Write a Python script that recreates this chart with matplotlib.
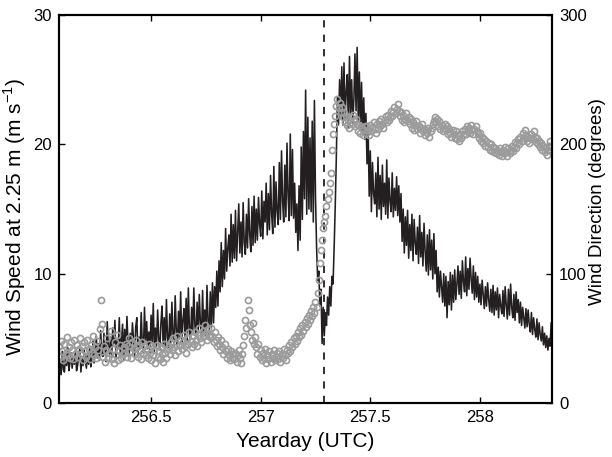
import numpy as np
import matplotlib.pyplot as plt

plt.rcParams['font.family'] = ['Liberation Sans', 'DejaVu Sans']

# wind speed at 2.25 m (m/s), one value every 0.005 day from yearday 256.08
speed_start = 256.08
speed_step = 0.005
wind_speed = [
    1.6, 3.2, 2.2, 4.0, 2.6, 2.4, 3.8, 2.9, 4.3, 2.5, 3.1, 3.9, 2.7, 3.5, 3.0, 4.1, 2.5, 2.9, 3.7, 4.2,
    2.4, 3.6, 2.9, 4.1, 3.3, 2.7, 3.9, 3.0, 4.4, 2.8, 3.5, 4.8, 3.1, 4.0, 5.2, 3.5, 4.6, 3.3, 5.6, 4.0,
    3.6, 5.4, 4.1, 3.2, 6.3, 4.4, 3.8, 5.1, 3.5, 5.8, 4.6, 6.4, 3.4, 5.0, 4.2, 6.6, 3.6, 4.8, 6.1, 3.3,
    5.7, 3.9, 6.7, 4.5, 3.6, 5.4, 4.1, 6.2, 4.9, 3.7, 5.9, 6.6, 3.8, 5.1, 4.2, 7.0, 4.6, 3.9, 7.4, 4.8,
    6.3, 4.2, 5.5, 3.9, 6.8, 4.7, 7.7, 4.0, 5.8, 4.4, 7.2, 5.0, 4.1, 6.2, 7.5, 4.5, 6.6, 4.2, 8.0, 5.1,
    4.3, 6.9, 4.7, 7.8, 5.3, 4.4, 8.3, 5.6, 4.5, 7.1, 5.0, 8.6, 4.6, 6.4, 7.3, 5.1, 8.1, 4.8, 8.9, 5.6,
    4.9, 7.4, 5.3, 8.9, 6.0, 5.0, 7.8, 5.4, 8.4, 6.2, 5.1, 8.7, 5.5, 7.2, 5.2, 9.1, 6.3, 5.3, 8.6, 5.8,
    9.3, 6.2, 9.0, 7.4, 10.2, 7.5, 11.0, 8.6, 12.4, 9.0, 11.8, 9.6, 13.5, 10.2, 12.0, 13.0, 10.6, 14.6, 10.9, 13.8,
    11.2, 14.9, 11.0, 13.1, 15.4, 11.6, 14.0, 11.3, 15.5, 12.4, 11.5, 14.6, 12.0, 15.8, 13.0, 11.7, 15.2, 12.2, 16.0, 12.4,
    15.0, 12.6, 15.9, 13.8, 12.9, 16.4, 12.7, 15.6, 14.0, 17.0, 13.0, 16.2, 13.4, 17.6, 14.6, 13.1, 18.3, 13.6, 17.1, 14.8,
    13.8, 18.6, 14.2, 19.5, 15.6, 14.0, 18.4, 14.4, 20.1, 16.0, 14.1, 20.8, 14.5, 19.6, 14.3, 17.0, 13.2, 15.4, 11.8, 16.8,
    12.6, 19.8, 14.2, 21.0, 15.8, 24.2, 14.6, 22.1, 15.0, 20.5, 14.8, 21.8, 14.0, 23.4, 16.0, 12.0, 9.5, 10.2, 7.5, 8.8,
    4.6, 7.4, 5.2, 7.0, 6.0, 8.2, 6.8, 9.0, 7.5, 9.8, 9.2, 12.0, 15.2, 19.0, 23.7, 21.5, 25.0, 22.0, 26.0, 21.5,
    26.3, 22.0, 24.1, 25.4, 21.3, 26.8, 22.4, 25.0, 21.6, 23.5, 27.0, 22.6, 27.5, 21.8, 25.6, 21.2, 24.8, 20.8, 23.6, 20.4,
    22.4, 18.5, 21.2, 16.0, 19.5, 14.8, 18.6, 16.2, 15.4, 17.8, 14.4, 19.0, 15.0, 17.6, 14.2, 18.4, 15.2, 17.0, 14.6, 18.8,
    14.3, 17.4, 15.6, 14.8, 17.8, 14.4, 16.6, 14.9, 17.5, 14.5, 16.8, 14.0, 16.2, 12.5, 15.0, 11.6, 14.4, 12.2, 14.9, 11.2,
    13.8, 11.8, 14.6, 11.0, 14.2, 12.4, 11.5, 13.6, 10.8, 14.5, 11.3, 13.2, 10.6, 13.9, 11.8, 10.2, 13.0, 9.9, 13.4, 10.3,
    12.6, 9.6, 13.1, 10.0, 11.8, 8.6, 10.5, 8.2, 10.2, 9.0, 7.8, 10.0, 7.5, 9.8, 6.6, 9.4, 7.6, 10.1, 7.2, 9.9,
    7.8, 10.3, 8.0, 9.2, 10.6, 8.4, 10.2, 8.1, 11.0, 9.4, 8.6, 11.3, 8.3, 10.4, 8.8, 11.2, 9.6, 8.5, 10.6, 8.0,
    10.1, 8.2, 9.8, 7.8, 9.2, 7.6, 9.5, 8.4, 7.3, 9.0, 7.5, 9.3, 8.0, 7.1, 8.8, 7.0, 9.1, 6.8, 8.6, 7.2,
    8.9, 6.6, 8.4, 7.5, 6.9, 8.7, 6.7, 9.0, 7.6, 6.5, 8.8, 6.8, 9.2, 7.4, 6.6, 8.4, 6.4, 8.6, 7.0, 8.0,
    6.2, 7.8, 6.0, 7.4, 6.6, 5.8, 7.3, 5.9, 7.2, 6.1, 5.5, 7.0, 5.3, 6.6, 5.7, 5.1, 6.5, 4.9, 6.2, 5.3,
    4.8, 5.9, 4.5, 5.4, 4.3, 5.2, 4.1, 5.0, 4.4, 6.2,
]

# wind direction (degrees), one value every 0.005 day from yearday 256.08
dir_start = 256.08
dir_step = 0.005
wind_dir = [
    44, 36, 48, 40, 33, 46, 39, 51, 37, 43, 35, 47, 41, 34, 49, 38, 45, 36, 42, 50,
    38, 44, 33, 47, 40, 36, 49, 42, 34, 45, 39, 52, 37, 43, 35, 48, 41, 57, 80, 61,
    36, 44, 32, 41, 50, 35, 39, 56, 34, 42, 31, 47, 37, 53, 33, 40, 45, 35, 38, 43,
    39, 46, 36, 44, 50, 40, 35, 47, 42, 38, 49, 43, 36, 45, 41, 34, 47, 39, 44, 37,
    42, 35, 46, 39, 33, 44, 37, 41, 31, 45, 36, 40, 34, 43, 38, 32, 46, 39, 35, 42,
    44, 38, 47, 41, 50, 43, 37, 46, 52, 40, 45, 49, 42, 47, 53, 44, 39, 50, 46, 55,
    48, 43, 52, 46, 55, 49, 44, 53, 58, 50, 47, 56, 52, 60, 54, 49, 57, 53, 51, 58,
    52, 47, 55, 49, 44, 51, 46, 41, 49, 43, 38, 46, 40, 35, 42, 37, 33, 40, 35, 38,
    34, 39, 32, 37, 41, 35, 31, 38, 45, 52, 64, 58, 80, 72, 60, 55, 49, 62, 46, 51,
    43, 38, 46, 36, 41, 33, 39, 35, 42, 31, 37, 34, 40, 32, 38, 35, 41, 33, 36, 39,
    34, 40, 32, 38, 35, 42, 37, 33, 41, 39, 45, 40, 47, 43, 50, 46, 52, 48, 55, 51,
    58, 53, 60, 56, 63, 59, 66, 61, 68, 64, 71, 67, 74, 70, 78, 74, 85, 95, 108, 118,
    126, 135, 140, 145, 152, 158, 163, 170, 178, 196, 208, 216, 222, 230, 235, 228, 232, 225, 229, 221,
    224, 217, 222, 215, 219, 213, 221, 216, 223, 218, 214, 220, 216, 210, 215, 209, 213, 207, 211, 214,
    209, 214, 211, 207, 215, 210, 213, 217, 212, 209, 216, 212, 218, 214, 220, 216, 213, 219, 222, 217,
    223, 219, 221, 226, 222, 225, 229, 224, 227, 231, 226, 222, 225, 219, 223, 217, 220, 224, 218, 221,
    216, 220, 213, 217, 211, 215, 218, 212, 214, 209, 213, 216, 210, 212, 207, 211, 209, 213, 206, 210,
    213, 216, 218, 221, 217, 220, 214, 218, 212, 215, 210, 213, 216, 211, 214, 208, 212, 209, 206, 211,
    208, 205, 210, 204, 207, 203, 208, 205, 210, 207, 212, 208, 214, 210, 213, 209, 215, 211, 208, 212,
    214, 210, 208, 205, 209, 203, 206, 201, 204, 199, 203, 198, 201, 196, 200, 195, 198, 194, 197, 193,
    196, 192, 197, 194, 191, 196, 193, 198, 194, 191, 197, 193, 196, 199, 195, 198, 202, 197, 201, 204,
    200, 206, 203, 209, 205, 211, 207, 203, 206, 201, 205, 208, 204, 210, 206, 202, 205, 200, 203, 198,
    201, 196, 199, 194, 197, 192, 196, 199, 203, 198,
]

event_day = 257.29

t_speed = speed_start + speed_step * np.arange(len(wind_speed))
t_dir = dir_start + dir_step * np.arange(len(wind_dir))

fig = plt.figure(figsize=(6.12, 4.57), dpi=100)
ax = fig.add_axes([0.0964, 0.118, 0.806, 0.849])
ax2 = ax.twinx()

ax.plot(t_speed, wind_speed, color='#231f20', lw=1.15)
ax.axvline(event_day, color='#231f20', lw=1.3, ls=(0, (4, 4)))
ax2.plot(t_dir, wind_dir, 'o', ms=4.4, mfc='none', mec='#9b9b9b', mew=1.2)

ax.set_xlim(256.08, 258.33)
ax.set_ylim(0, 30)
ax2.set_ylim(0, 300)
ax.set_xticks([256.5, 257, 257.5, 258])
ax.set_xticklabels(['256.5', '257', '257.5', '258'])
ax.set_yticks([0, 10, 20, 30])
ax2.set_yticks([0, 100, 200, 300])

ax.tick_params(direction='in', top=True, right=False, length=4, width=1, labelsize=12, pad=5)
ax2.tick_params(direction='in', length=4, width=1, labelsize=12, pad=5)

for a in (ax, ax2):
    for s in a.spines.values():
        s.set_linewidth(1.5)

ax.set_xlabel('Yearday (UTC)', fontsize=15)
ax.set_ylabel('Wind Speed at 2.25 m (m s$^{\\mathregular{-1}}$)', fontsize=15)
ax2.set_ylabel('Wind Direction (degrees)', fontsize=13.5)
ax.xaxis.set_label_coords(0.5, -0.075)
ax.yaxis.set_label_coords(-0.062, 0.48)
ax2.yaxis.set_label_coords(1.075, 0.52)

fig.savefig('out.png', dpi=100)
